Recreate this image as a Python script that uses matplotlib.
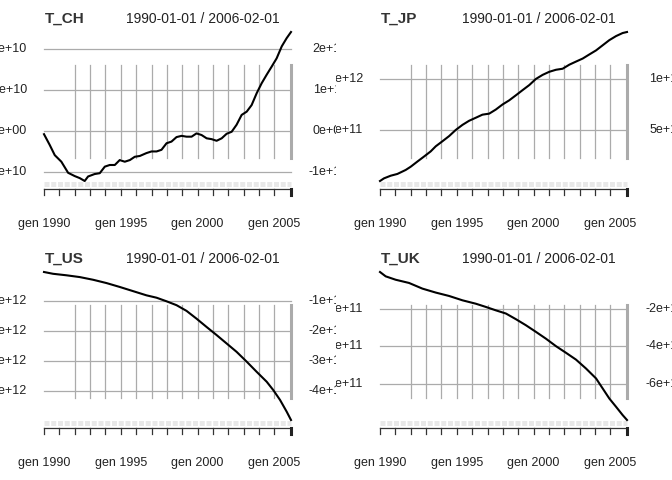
import numpy as np
import matplotlib
matplotlib.use("Agg")
import matplotlib.pyplot as plt
import matplotlib.transforms as mtrans

plt.rcParams['font.family'] = ['Liberation Sans', 'DejaVu Sans']

# Values (decimal years, series in their own units)
ch_years = [1990.00, 1990.37, 1990.70, 1991.13, 1991.57, 1992.00, 1992.33, 1992.65, 1992.87,
            1993.30, 1993.63, 1993.96, 1994.28, 1994.61, 1994.93, 1995.26, 1995.59, 1995.91,
            1996.24, 1996.67, 1997.00, 1997.33, 1997.65, 1997.98, 1998.30, 1998.63, 1998.96,
            1999.28, 1999.61, 1999.93, 2000.26, 2000.59, 2000.91, 2001.24, 2001.57, 2001.89,
            2002.22, 2002.54, 2002.87, 2003.20, 2003.52, 2003.85, 2004.17, 2004.50, 2004.83,
            2005.15, 2005.48, 2005.80, 2006.083]
ch_vals = [-0.08, -0.34, -0.59, -0.75, -1.02, -1.10, -1.15, -1.22, -1.11, -1.05, -1.03, -0.87,
           -0.83, -0.83, -0.71, -0.75, -0.71, -0.63, -0.61, -0.54, -0.50, -0.50, -0.46, -0.30,
           -0.26, -0.15, -0.12, -0.14, -0.14, -0.06, -0.10, -0.18, -0.20, -0.24, -0.18, -0.07,
           -0.02, 0.15, 0.39, 0.47, 0.63, 0.92, 1.16, 1.37, 1.57, 1.77, 2.06, 2.26, 2.41]  # e10

jp_years = [1990.00, 1990.26, 1990.70, 1991.13, 1991.67, 1992.00, 1992.43, 1992.87, 1993.30,
            1993.63, 1994.07, 1994.50, 1994.93, 1995.37, 1995.80, 1996.24, 1996.67, 1997.11,
            1997.54, 1997.98, 1998.41, 1998.85, 1999.28, 1999.72, 2000.15, 2000.59, 2001.02,
            2001.46, 2001.89, 2002.33, 2002.76, 2003.20, 2003.63, 2004.07, 2004.50, 2004.93,
            2005.37, 2005.80, 2006.083]
jp_vals = [0.00, 0.026, 0.052, 0.069, 0.108, 0.14, 0.19, 0.24, 0.29, 0.34, 0.39, 0.44, 0.50,
           0.55, 0.59, 0.62, 0.65, 0.66, 0.70, 0.75, 0.79, 0.84, 0.89, 0.94, 1.00, 1.04, 1.07,
           1.09, 1.10, 1.14, 1.17, 1.20, 1.24, 1.28, 1.33, 1.38, 1.42, 1.45, 1.46]  # e12

us_years = [1990.00, 1990.59, 1991.46, 1992.33, 1993.20, 1994.07, 1994.93, 1995.80, 1996.67,
            1997.33, 1997.98, 1998.63, 1999.28, 1999.93, 2000.59, 2001.24, 2001.89, 2002.54,
            2003.20, 2003.85, 2004.50, 2004.93, 2005.37, 2005.80, 2006.083]
us_vals = [-0.02, -0.08, -0.13, -0.19, -0.28, -0.39, -0.52, -0.66, -0.80, -0.88, -1.00, -1.13,
           -1.32, -1.58, -1.86, -2.13, -2.41, -2.69, -3.02, -3.36, -3.69, -3.97, -4.30, -4.69,
           -4.97]  # e12

uk_years = [1990.00, 1990.37, 1991.02, 1991.89, 1992.76, 1993.63, 1994.50, 1995.37, 1996.24,
            1996.89, 1997.54, 1998.20, 1998.85, 1999.50, 2000.15, 2000.80, 2001.46, 2002.11,
            2002.76, 2003.41, 2004.07, 2004.50, 2004.93, 2005.37, 2005.80, 2006.083]
uk_vals = [-0.06, -0.29, -0.47, -0.64, -0.94, -1.15, -1.33, -1.56, -1.74, -1.91, -2.09, -2.26,
           -2.56, -2.88, -3.23, -3.59, -3.99, -4.34, -4.70, -5.17, -5.70, -6.23, -6.76, -7.20,
           -7.64, -7.90]  # e11

panels = [
    ("T_CH", ch_years, np.array(ch_vals) * 1e10, [2e10, 1e10, 0, -1e10],
     ["2e+10", "1e+10", "0e+00", "-1e+10"]),
    ("T_JP", jp_years, np.array(jp_vals) * 1e12, [1e12, 5e11], ["1e+12", "5e+11"]),
    ("T_US", us_years, np.array(us_vals) * 1e12, [-1e12, -2e12, -3e12, -4e12],
     ["-1e+12", "-2e+12", "-3e+12", "-4e+12"]),
    ("T_UK", uk_years, np.array(uk_vals) * 1e11, [-2e11, -4e11, -6e11],
     ["-2e+11", "-4e+11", "-6e+11"]),
]
date_range = "1990-01-01 / 2006-02-01"
x_start, x_end = 1990.0, 2006.083
tick_years = list(range(1990, 2006))
grid_years = list(range(1992, 2006))
label_years = [1990, 1995, 2000, 2005]

W, H = 672, 480
fig = plt.figure(figsize=(W / 100, H / 100), dpi=100)

GRID = "#ababab"
TXT = "#222222"

# pixel layout of each panel: (quadrant left, quadrant top, plot left, plot top, plot bottom)
layout = [(0, 0, 44, 32, 181), (336, 0, 380, 32, 181),
          (0, 240, 44, 272, 420), (336, 240, 380, 272, 420)]
plot_w = 247

for (name, xs, ys, yt, ylab), (qx, qy, px, ptop, pbot) in zip(panels, layout):
    quad = fig.add_axes([qx / W, 1 - (qy + 240) / H, 336 / W, 240 / H])
    quad.axis("off")
    ph = pbot - ptop
    ax = fig.add_axes([px / W, 1 - pbot / H, plot_w / W, ph / H])
    ax.axis("off")
    ax.set_xlim(x_start, x_end)
    ax.set_ylim(min(ys), max(ys))

    def fy(pix):
        # pixel offset below the plot bottom -> axes fraction
        return -pix / ph

    tr = mtrans.blended_transform_factory(ax.transData, ax.transAxes)
    trx = mtrans.blended_transform_factory(ax.transAxes, ax.transData)
    vg = [(pbot - (ptop + 126)) / ph, (pbot - (ptop + 33)) / ph]

    # horizontal grid
    for v in yt:
        ax.plot([x_start, x_end], [v, v], color=GRID, lw=0.9, zorder=1, clip_on=False)
    # vertical grid
    for yr in grid_years:
        ax.plot([yr, yr], vg, transform=tr, color=GRID, lw=0.9, zorder=1, clip_on=False)
    ax.plot([x_end, x_end], vg, transform=tr, color=GRID, lw=2.2, zorder=1, clip_on=False)

    # series
    ax.plot(xs, ys, color="black", lw=1.5, zorder=3, clip_on=False)

    # light dashed band under the plot
    ax.plot([x_start, x_end], [fy(2.5), fy(2.5)], transform=tr, color="#e8e8e8",
            lw=3.6, ls=(0, (1.0, 0.35)), solid_capstyle="butt", clip_on=False)

    # x axis baseline and ticks
    ax.plot([x_start, x_end], [fy(8), fy(8)], transform=tr, color="#333333", lw=0.9,
            clip_on=False)
    for yr in tick_years:
        ax.plot([yr, yr], [fy(8), fy(14)], transform=tr, color="#333333", lw=0.9,
                clip_on=False)
    ax.plot([x_end, x_end], [fy(8), fy(14)], transform=tr, color="#222222", lw=2.2,
            clip_on=False)
    for yr in label_years:
        ax.text(yr, fy(43), f"gen {yr}", transform=tr, ha="center", va="center",
                fontsize=9, color=TXT, clip_on=False)

    # y labels both sides, clipped to the quadrant
    for v, lab in zip(yt, ylab):
        t1 = ax.text(-17 / plot_w, v, lab, transform=trx, ha="right", va="center",
                     fontsize=9, color=TXT)
        t2 = ax.text(1 + 57 / plot_w, v, lab, transform=trx, ha="right", va="center",
                     fontsize=9, color=TXT)
        for t in (t1, t2):
            t.set_clip_on(True)
            t.set_clip_box(quad.bbox)

    # titles
    ax.text(1 / plot_w, (pbot - (ptop - 13)) / ph, name, transform=ax.transAxes,
            ha="left", va="center", fontsize=11, fontweight="bold", color="#333333")
    ax.text(236 / plot_w, (pbot - (ptop - 13)) / ph, date_range,
            transform=ax.transAxes, ha="right", va="center", fontsize=10, color=TXT)

fig.savefig("out.png", dpi=100)
